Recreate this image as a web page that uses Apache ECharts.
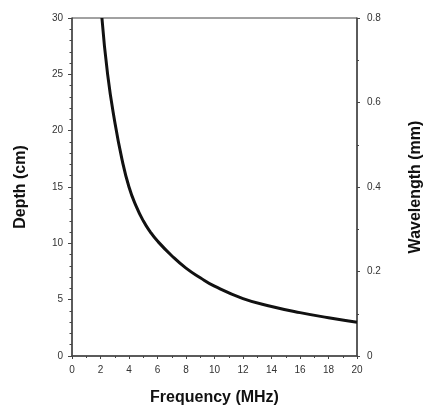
<!DOCTYPE html>
<html>
<head>
<meta charset="utf-8">
<script src="https://cdn.jsdelivr.net/npm/echarts@6/dist/echarts.min.js"></script>
<style>html,body{margin:0;padding:0;background:#fff;}#c{width:428px;height:407px;}</style>
</head>
<body>
<div id="c"></div>
<script>
// Frequency (MHz) and depth (cm)
const frequency = [2.1, 2.5, 3, 3.5, 4, 4.5, 5, 5.5, 6, 7, 8, 9, 10, 12, 14, 16, 18, 20];
const depth =     [30, 25, 20.8, 17.5, 15.0, 13.3, 12.0, 11.0, 10.2, 8.9, 7.8, 6.95, 6.2, 5.1, 4.4, 3.85, 3.4, 3.0];
const xTicks = [0, 2, 4, 6, 8, 10, 12, 14, 16, 18, 20];
const depthTicks = [0, 5, 10, 15, 20, 25, 30];
const wavelengthTicks = [0, 0.2, 0.4, 0.6, 0.8];

const chart = echarts.init(document.getElementById('c'));
const axisCol = '#444';
const labelStyle = {color: '#333', fontSize: 10, fontFamily: 'Liberation Sans, Arial, sans-serif'};
const nameStyle = {color: '#111', fontSize: 16, fontWeight: 'bold', fontFamily: 'Liberation Sans, Arial, sans-serif'};
chart.setOption({
  animation: false,
  backgroundColor: '#fff',
  grid: {left: 72, right: 71, top: 18, bottom: 51, outerBoundsMode: 'none', containLabel: false,
         show: true, borderColor: axisCol, borderWidth: 1, backgroundColor: 'transparent'},
  xAxis: {
    type: 'value', min: xTicks[0], max: xTicks[xTicks.length - 1], interval: 2,
    name: 'Frequency (MHz)', nameLocation: 'middle', nameGap: 34,
    nameTextStyle: nameStyle,
    axisLine: {show: true, lineStyle: {color: axisCol, width: 1.5}},
    axisTick: {show: true, length: 3, lineStyle: {color: axisCol}},
    minorTick: {show: true, splitNumber: 2, length: 2, lineStyle: {color: axisCol}},
    axisLabel: Object.assign({margin: 9}, labelStyle),
    splitLine: {show: false}
  },
  yAxis: [{
    type: 'value', min: depthTicks[0], max: depthTicks[depthTicks.length - 1], interval: 5,
    name: 'Depth (cm)', nameLocation: 'middle', nameGap: 43, nameRotate: 90,
    nameTextStyle: nameStyle,
    axisLine: {show: true, lineStyle: {color: axisCol, width: 1.5}},
    axisTick: {show: true, length: 4, lineStyle: {color: axisCol}},
    minorTick: {show: true, splitNumber: 5, length: 2.5, lineStyle: {color: axisCol}},
    axisLabel: Object.assign({margin: 9}, labelStyle),
    splitLine: {show: false}
  }, {
    type: 'value', position: 'right', min: wavelengthTicks[0], max: wavelengthTicks[wavelengthTicks.length - 1], interval: 0.2,
    name: 'Wavelength (mm)', nameLocation: 'middle', nameGap: 51, nameRotate: 90,
    nameTextStyle: nameStyle,
    axisLine: {show: true, lineStyle: {color: axisCol, width: 1.5}},
    axisTick: {show: true, length: 3, lineStyle: {color: axisCol}},
    minorTick: {show: true, splitNumber: 2, length: 2, lineStyle: {color: axisCol}},
    axisLabel: Object.assign({margin: 10, formatter: v => v === 0 ? '0' : v.toFixed(1)}, labelStyle),
    splitLine: {show: false}
  }],
  series: [{
    type: 'line', yAxisIndex: 0, smooth: 0.5, symbol: 'none',
    data: frequency.map((f, i) => [f, depth[i]]),
    lineStyle: {color: '#111', width: 3}
  }]
});
</script>
</body>
</html>
